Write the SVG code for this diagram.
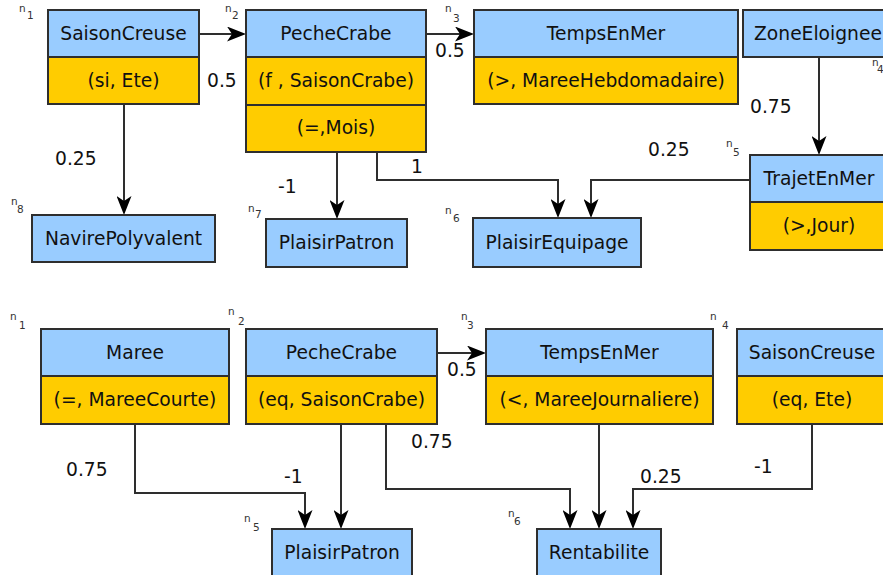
<svg xmlns="http://www.w3.org/2000/svg" width="883" height="575" viewBox="0 0 883 575">
<style>
text{font-family:"DejaVu Sans","Liberation Sans",sans-serif;fill:#111}
.t{font-size:18.7px;text-anchor:middle}
.l{font-size:18.7px}
.s{font-size:10.5px;fill:#333}
.h{fill:#99ccff;stroke:#2e2e2e;stroke-width:2}
.a{fill:#ffcc00;stroke:#2e2e2e;stroke-width:2}
.c{fill:none;stroke:#2e2e2e;stroke-width:2;marker-end:url(#arr)}
</style>
<defs>
<marker id="arr" markerUnits="userSpaceOnUse" markerWidth="19" markerHeight="15" viewBox="0 0 19 15" refX="15" refY="7.5" orient="auto">
<path d="M0,0 L19,7.5 L0,15 L5,7.5 Z" fill="#000"/>
</marker>
</defs>
<rect width="883" height="575" fill="#fff"/>

<g id="connectors">
<path class="c" d="M199,34 H242"/>
<path class="c" d="M426,34 H470"/>
<path class="c" d="M819,57 V151"/>
<path class="c" d="M750,180 H591 V214"/>
<path class="c" d="M377,152 V180 H558 V214"/>
<path class="c" d="M337,152 V215"/>
<path class="c" d="M124,104 V211"/>
<path class="c" d="M437,353 H482"/>
<path class="c" d="M135,424 V493 H305 V525"/>
<path class="c" d="M341,424 V525"/>
<path class="c" d="M386,424 V489 H570 V525"/>
<path class="c" d="M599,424 V525"/>
<path class="c" d="M812,424 V489 H633 V525"/>
</g>

<g id="edge-labels">
<text class="l" x="207" y="87">0.5</text>
<text class="l" x="435" y="57">0.5</text>
<text class="l" x="750" y="113">0.75</text>
<text class="l" x="648" y="156">0.25</text>
<text class="l" x="55" y="165">0.25</text>
<text class="l" x="278" y="193">-1</text>
<text class="l" x="411" y="173">1</text>
<text class="l" x="66" y="476">0.75</text>
<text class="l" x="284" y="483">-1</text>
<text class="l" x="447" y="376">0.5</text>
<text class="l" x="411" y="448">0.75</text>
<text class="l" x="640" y="483">0.25</text>
<text class="l" x="754" y="473">-1</text>
</g>

<!-- top diagram -->
<g id="t-n1">
<rect class="h" x="48" y="10" width="151" height="47"/>
<rect class="a" x="48" y="57" width="151" height="47"/>
<text class="t" x="123.5" y="40">SaisonCreuse</text>
<text class="t" x="123.5" y="87">(si, Ete)</text>
<text class="s" x="19" y="12">n</text><text class="s" x="27" y="19">1</text>
</g>
<g id="t-n2">
<rect class="h" x="246" y="10" width="180" height="47"/>
<rect class="a" x="246" y="57" width="180" height="48"/>
<rect class="a" x="246" y="105" width="180" height="47"/>
<text class="t" x="336" y="40">PecheCrabe</text>
<text class="t" x="336" y="87">(f , SaisonCrabe)</text>
<text class="t" x="336" y="134">(=,Mois)</text>
<text class="s" x="225" y="12">n</text><text class="s" x="232" y="19">2</text>
</g>
<g id="t-n3">
<rect class="h" x="474" y="10" width="264" height="47"/>
<rect class="a" x="474" y="57" width="264" height="47"/>
<text class="t" x="606" y="40">TempsEnMer</text>
<text class="t" x="606" y="87">(&gt;, MareeHebdomadaire)</text>
<text class="s" x="445" y="12">n</text><text class="s" x="453" y="22">3</text>
</g>
<g id="t-n4">
<rect class="h" x="743" y="10" width="150" height="47"/>
<text class="t" x="818" y="40">ZoneEloignee</text>
<text class="s" x="872" y="66">n</text><text class="s" x="877" y="73">4</text>
</g>
<g id="t-n5">
<rect class="h" x="750" y="155" width="138" height="47"/>
<rect class="a" x="750" y="202" width="138" height="48"/>
<text class="t" x="819" y="185">TrajetEnMer</text>
<text class="t" x="819" y="232">(&gt;,Jour)</text>
<text class="s" x="726" y="147">n</text><text class="s" x="733" y="156">5</text>
</g>
<g id="t-n6">
<rect class="h" x="473" y="218" width="168" height="49"/>
<text class="t" x="557" y="249">PlaisirEquipage</text>
<text class="s" x="445" y="214">n</text><text class="s" x="453" y="222">6</text>
</g>
<g id="t-n7">
<rect class="h" x="266" y="219" width="141" height="48"/>
<text class="t" x="336.5" y="249">PlaisirPatron</text>
<text class="s" x="248" y="212">n</text><text class="s" x="255" y="218">7</text>
</g>
<g id="t-n8">
<rect class="h" x="32" y="215" width="183" height="47"/>
<text class="t" x="123.5" y="245">NavirePolyvalent</text>
<text class="s" x="11" y="205">n</text><text class="s" x="17" y="213">8</text>
</g>

<!-- bottom diagram -->
<g id="b-n1">
<rect class="h" x="41" y="329" width="188" height="47"/>
<rect class="a" x="41" y="376" width="188" height="48"/>
<text class="t" x="135" y="359">Maree</text>
<text class="t" x="135" y="406">(=, MareeCourte)</text>
<text class="s" x="10" y="320">n</text><text class="s" x="19" y="329">1</text>
</g>
<g id="b-n2">
<rect class="h" x="246" y="329" width="191" height="47"/>
<rect class="a" x="246" y="376" width="191" height="48"/>
<text class="t" x="341.5" y="359">PecheCrabe</text>
<text class="t" x="341.5" y="406">(eq, SaisonCrabe)</text>
<text class="s" x="228" y="315">n</text><text class="s" x="238" y="325">2</text>
</g>
<g id="b-n3">
<rect class="h" x="486" y="329" width="227" height="47"/>
<rect class="a" x="486" y="376" width="227" height="48"/>
<text class="t" x="599.5" y="359">TempsEnMer</text>
<text class="t" x="599.5" y="406">(&lt;, MareeJournaliere)</text>
<text class="s" x="461" y="320">n</text><text class="s" x="467" y="329">3</text>
</g>
<g id="b-n4">
<rect class="h" x="737" y="329" width="150" height="47"/>
<rect class="a" x="737" y="376" width="150" height="48"/>
<text class="t" x="812" y="359">SaisonCreuse</text>
<text class="t" x="812" y="406">(eq, Ete)</text>
<text class="s" x="710" y="320">n</text><text class="s" x="722" y="329">4</text>
</g>
<g id="b-n5">
<rect class="h" x="272" y="529" width="140" height="47"/>
<text class="t" x="342" y="559">PlaisirPatron</text>
<text class="s" x="244" y="522">n</text><text class="s" x="253" y="531">5</text>
</g>
<g id="b-n6">
<rect class="h" x="537" y="529" width="124" height="47"/>
<text class="t" x="599" y="559">Rentabilite</text>
<text class="s" x="508" y="517">n</text><text class="s" x="514" y="525">6</text>
</g>
</svg>
